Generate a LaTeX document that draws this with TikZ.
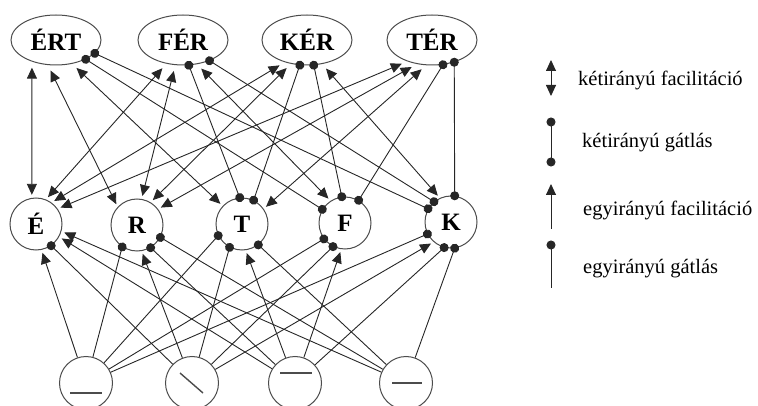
\documentclass[tikz,border=0pt]{standalone}
\usepackage{fontspec}
\setmainfont{Liberation Serif}
\usetikzlibrary{arrows.meta,shapes.geometric}
\tikzset{
  tri/.tip={Triangle[length=11pt,width=10pt]},
  blob/.tip={Circle[length=9pt]},
  edgeline/.style={draw=black!85, line width=0.9pt},
  outline/.style={draw=black!70, line width=1pt},
  wordnode/.style={ellipse, outline, minimum width=90pt, minimum height=50pt,
    inner sep=0pt, font=\fontsize{25}{25}\selectfont\bfseries},
  letternode/.style={circle, outline, minimum size=52pt, inner sep=0pt,
    font=\fontsize{25}{25}\selectfont\bfseries},
  featnode/.style={circle, outline, minimum size=53pt, inner sep=0pt},
  featbar/.style={draw=black!70, line width=1.4pt},
  % two-way facilitation (word <-> letter)
  twoexc/.style={edgeline, tri-tri, shorten <=6pt, shorten >=3pt},
  % two-way inhibition (word <-> letter)
  twoinh/.style={edgeline, blob-blob, shorten <=-4.5pt, shorten >=-4.5pt},
  % one-way facilitation / inhibition (feature -> letter)
  oneexc/.style={edgeline, -tri, shorten >=3pt},
  oneinh/.style={edgeline, -blob, shorten >=-4.5pt},
  legtext/.style={anchor=base west, inner sep=0pt, font=\fontsize{20.5}{21}\selectfont},
}
\begin{document}
\begin{tikzpicture}[x=1pt,y=-1pt]
\useasboundingbox (0,0) rectangle (758,406);
\clip (0,0) rectangle (758,406);

% word level
\node[wordnode] (ERT) at (56,40)  {ÉRT};
\node[wordnode] (FER) at (183,40) {FÉR};
\node[wordnode] (KER) at (307,40) {KÉR};
\node[wordnode] (TER) at (432,40) {TÉR};

% letter level
\node[letternode] (E) at (36,224)  {É};
\node[letternode] (R) at (137,225) {R};
\node[letternode] (T) at (242,224) {T};
\node[letternode] (F) at (345,223) {F};
\node[letternode] (K) at (451,222) {K};

% feature level
\node[featnode] (g1) at (86,383)  {};
\node[featnode] (g2) at (192,383) {};
\node[featnode] (g3) at (295,383) {};
\node[featnode] (g4) at (406,383) {};
\draw[featbar] ([shift={(-16,10)}]g1.center) -- ([shift={(16,10)}]g1.center);
\draw[featbar] ([shift={(-12,-10)}]g2.center) -- ([shift={(11,10)}]g2.center);
\draw[featbar] ([shift={(-15,-10)}]g3.center) -- ([shift={(17,-10)}]g3.center);
\draw[featbar] ([shift={(-14,0)}]g4.center) -- ([shift={(16,0)}]g4.center);

% ÉRT
\draw[twoexc] (ERT.-138) -- (E.99);
\draw[twoexc] (ERT.-108) -- (R.137);
\draw[twoexc] (ERT.-56)  -- (T.137);
\draw[twoinh] (ERT.-33)  -- (F.149);
\draw[twoinh] (ERT.-19)  -- (K.150);
% FÉR
\draw[twoexc] (FER.-125) -- (E.68);
\draw[twoexc] (FER.-107) -- (R.80);
\draw[twoinh] (FER.-77)  -- (T.95);
\draw[twoexc] (FER.-60)  -- (F.123);
\draw[twoinh] (FER.-38)  -- (K.130);
% KÉR
\draw[twoexc] (KER.-135) -- (E.54);
\draw[twoexc] (KER.-124) -- (R.59);
\draw[twoinh] (KER.-106) -- (T.64);
\draw[twoinh] (KER.-75)  -- (F.97);
\draw[twoexc] (KER.-58)  -- (K.115);
% TÉR
\draw[twoexc] (TER.-139) -- (E.35);
\draw[twoexc] (TER.-122) -- (R.37);
\draw[twoexc] (TER.-103) -- (T.35);
\draw[twoinh] (TER.-66)  -- (F.59);
\draw[twoinh] (TER.-45)  -- (K.82);

% features -> letters
\draw[oneexc] (g1) -- (E.-78);
\draw[oneinh] (g1) -- (R.-124);
\draw[oneinh] (g1) -- (T.-154);
\draw[oneinh] (g1) -- (F.-143);
\draw[oneinh] (g1) -- (K.-153);

\draw[oneinh] (g2) -- (E.-55);
\draw[oneexc] (g2) -- (R.-80);
\draw[oneinh] (g2) -- (T.-118);
\draw[oneinh] (g2) -- (F.-117);
\draw[oneexc] (g2) -- (K.-131);

\draw[oneexc] (g3) -- (E.-29);
\draw[oneinh] (g3) -- (R.-59);
\draw[oneexc] (g3) -- (T.-82);
\draw[oneexc] (g3) -- (F.-98);
\draw[oneinh] (g3) -- (K.-105);

\draw[oneexc] (g4) -- (E.-16);
\draw[oneinh] (g4) -- (R.-28);
\draw[oneinh] (g4) -- (T.-52);
\draw[oneinh] (g4) -- (K.-82);

% legend
\coordinate (la1) at (551,60);
\coordinate (la2) at (551,96);
\coordinate (lb1) at (551,122);
\coordinate (lb2) at (551,162);
\coordinate (lc1) at (551,229);
\coordinate (lc2) at (551,184);
\coordinate (ld1) at (551,288);
\coordinate (ld2) at (551,245);
\draw[edgeline, tri-tri] (la1) -- (la2);
\draw[twoinh] (lb1) -- (lb2);
\draw[edgeline, -tri] (lc1) -- (lc2);
\draw[edgeline, -blob, shorten >=-4.5pt] (ld1) -- (ld2);

\node[legtext] (t1) at (578,86)  {kétirányú facilitáció};
\node[legtext] (t2) at (582,148) {kétirányú gátlás};
\node[legtext] (t3) at (583,216) {egyirányú facilitáció};
\node[legtext] (t4) at (583,273) {egyirányú gátlás};
\end{tikzpicture}
\end{document}
